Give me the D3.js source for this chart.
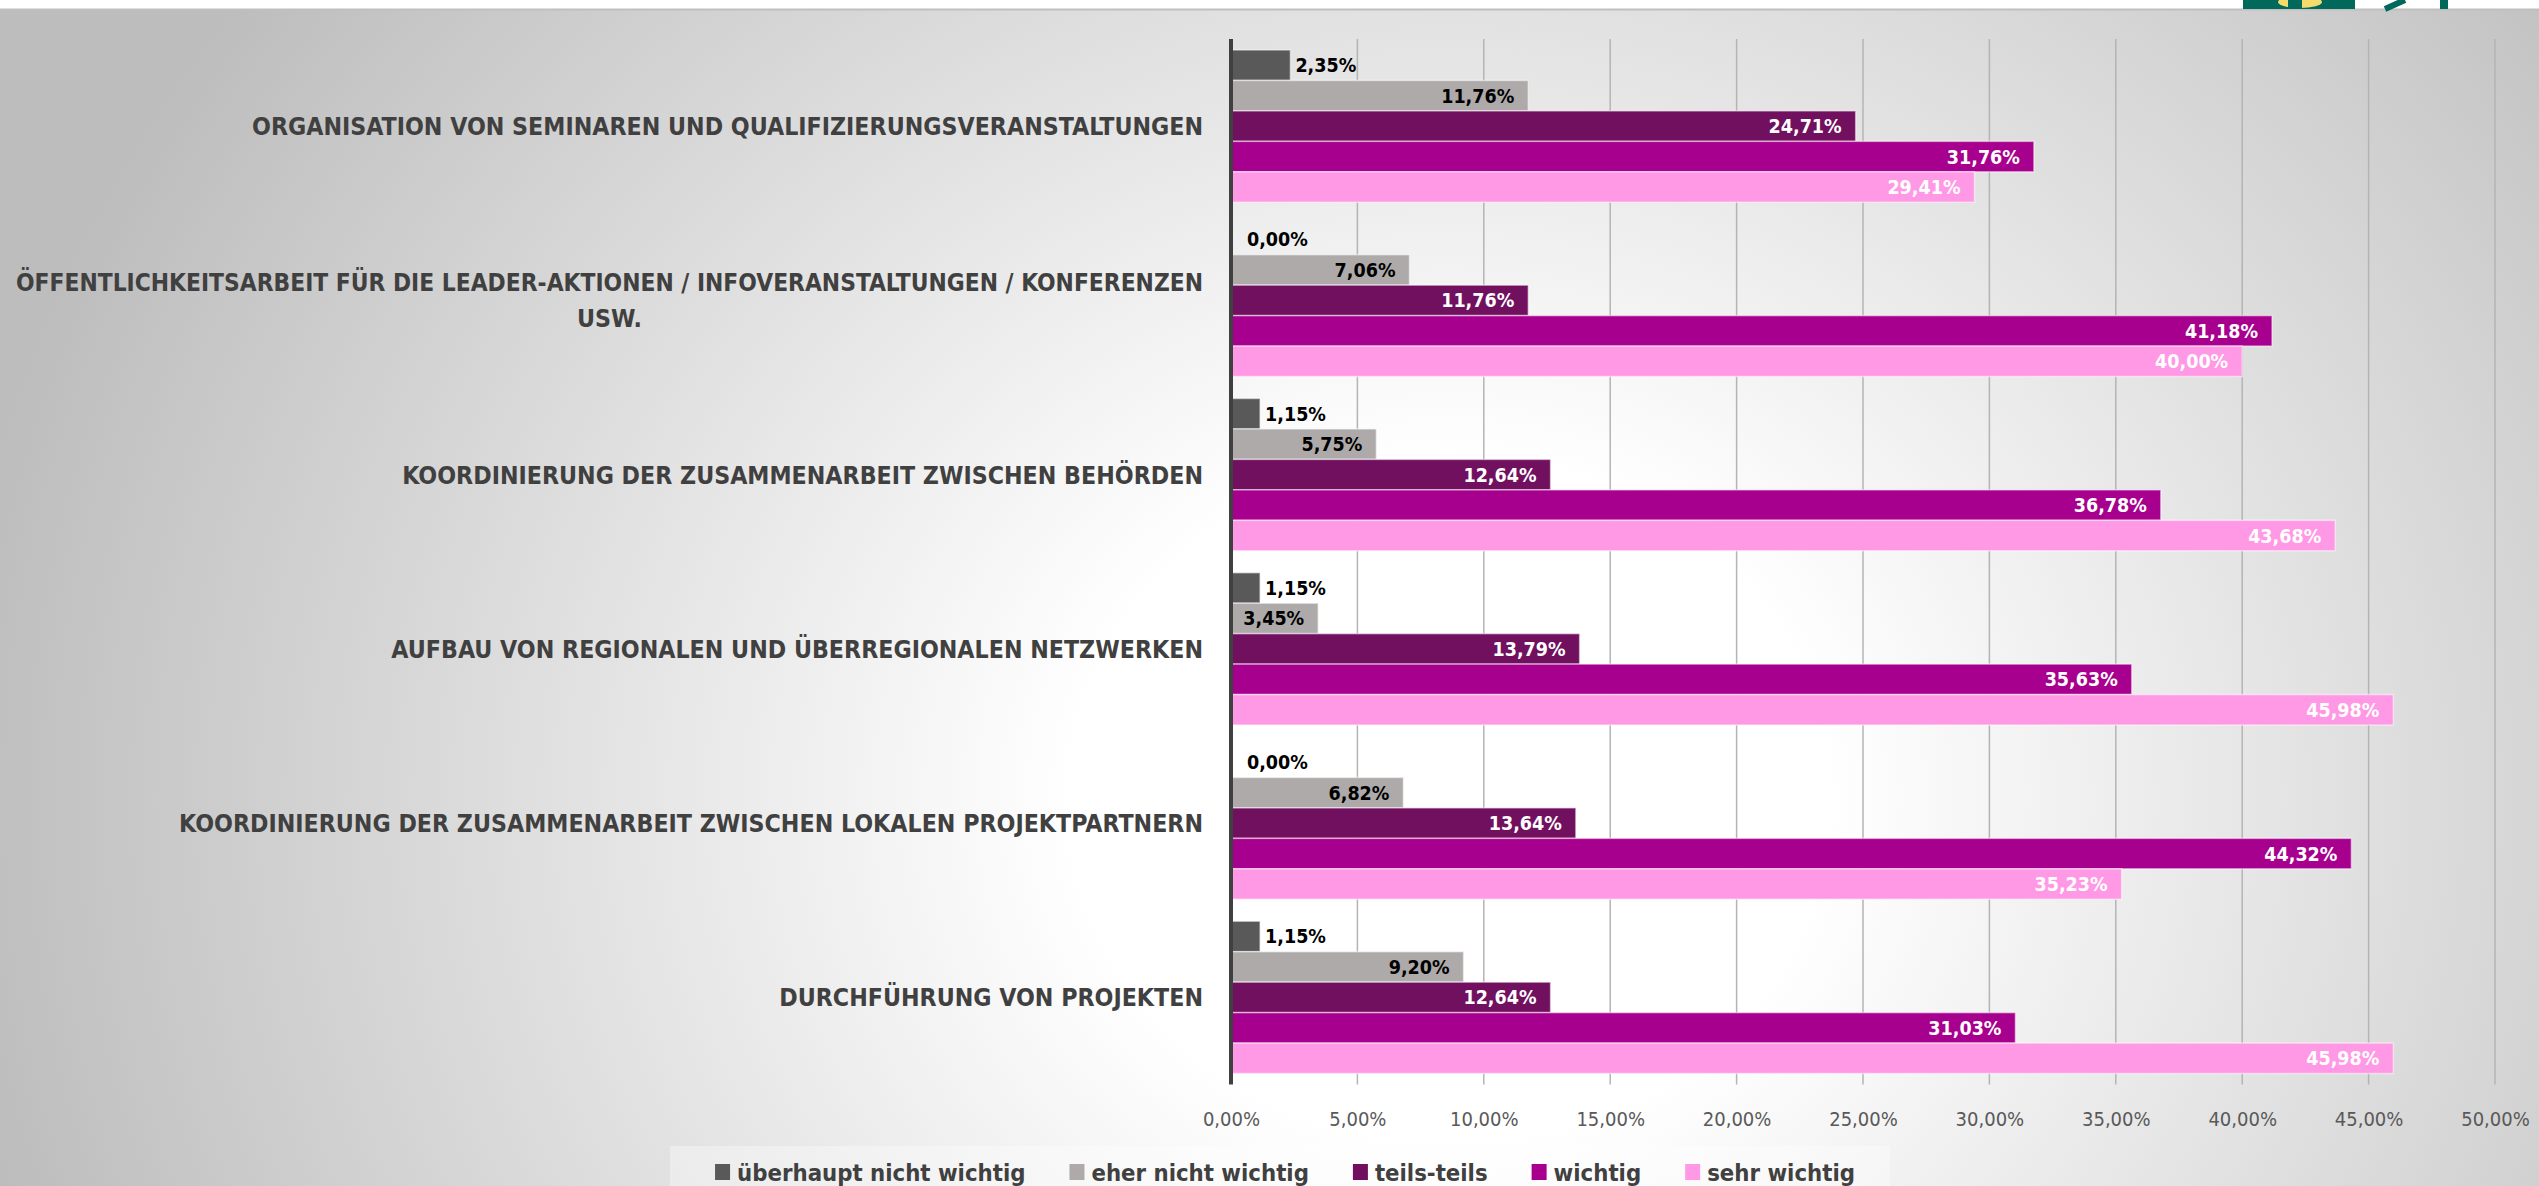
<!DOCTYPE html>
<html>
<head>
<meta charset="utf-8">
<script src="https://cdn.jsdelivr.net/npm/d3@7"></script>
<style>
  body { margin: 0; background: #fff; }
  svg { display: block; }
  text { font-family: "DejaVu Sans Condensed", "DejaVu Sans", sans-serif; font-stretch: condensed; }
</style>
</head>
<body>
<main></main>
<script>
const categories = [
  "ORGANISATION VON SEMINAREN UND QUALIFIZIERUNGSVERANSTALTUNGEN",
  "ÖFFENTLICHKEITSARBEIT FÜR DIE LEADER-AKTIONEN / INFOVERANSTALTUNGEN / KONFERENZEN USW.",
  "KOORDINIERUNG DER ZUSAMMENARBEIT ZWISCHEN BEHÖRDEN",
  "AUFBAU VON REGIONALEN UND ÜBERREGIONALEN NETZWERKEN",
  "KOORDINIERUNG DER ZUSAMMENARBEIT ZWISCHEN LOKALEN PROJEKTPARTNERN",
  "DURCHFÜHRUNG VON PROJEKTEN"
];
const seriesNames = ["überhaupt nicht wichtig", "eher nicht wichtig", "teils-teils", "wichtig", "sehr wichtig"];
const ueberhauptNichtWichtig = [2.35, 0.00, 1.15, 1.15, 0.00, 1.15];
const eherNichtWichtig = [11.76, 7.06, 5.75, 3.45, 6.82, 9.20];
const teilsTeils = [24.71, 11.76, 12.64, 13.79, 13.64, 12.64];
const wichtig = [31.76, 41.18, 36.78, 35.63, 44.32, 31.03];
const sehrWichtig = [29.41, 40.00, 43.68, 45.98, 35.23, 45.98];
const tickValues = [0, 5, 10, 15, 20, 25, 30, 35, 40, 45, 50];

const seriesValues = [ueberhauptNichtWichtig, eherNichtWichtig, teilsTeils, wichtig, sehrWichtig];
const colors = ["#595959", "#aeaaaa", "#70105e", "#a8008e", "#ff99e6"];
const labelColors = ["#000", "#000", "#fff", "#fff", "#fff"];

const width = 2539;
const height = 1186;
const plot = { left: 1231, right: 2495, top: 39, bottom: 1084.5 };

const locale = d3.formatLocale({ decimal: ",", thousands: ".", grouping: [3], currency: ["", "€"] });
const pct = (v) => locale.format(".2f")(v) + "%";

const svg = d3.select("main")
  .append("svg")
  .attr("width", width)
  .attr("height", height);

// background: soft grey radial wash like the slide
const defs = svg.append("defs");
const grad = defs.append("radialGradient")
  .attr("id", "bg")
  .attr("gradientUnits", "userSpaceOnUse")
  .attr("cx", 1450).attr("cy", 800).attr("r", 1500)
  .attr("gradientTransform", "translate(1450,800) scale(1,0.9) translate(-1450,-800)");
grad.append("stop").attr("offset", 0).attr("stop-color", "#ffffff");
grad.append("stop").attr("offset", 0.25).attr("stop-color", "#ffffff");
grad.append("stop").attr("offset", 1).attr("stop-color", "#bdbdbd");

svg.append("rect").attr("width", width).attr("height", height).attr("fill", "url(#bg)");
svg.append("rect").attr("width", width).attr("height", 9).attr("fill", "#fff");
svg.append("line")
  .attr("x1", 0).attr("x2", width).attr("y1", 9.5).attr("y2", 9.5)
  .attr("stroke", "#bfbfbf").attr("stroke-width", 2);

// cut-off logo in the top right corner
const logo = svg.append("g");
logo.append("rect").attr("x", 2243).attr("y", 0).attr("width", 112).attr("height", 9).attr("fill", "#00695c");
logo.append("ellipse").attr("cx", 2300).attr("cy", 2).attr("rx", 22).attr("ry", 6).attr("fill", "#f3dc6b");
logo.append("rect").attr("x", 2288).attr("y", 0).attr("width", 14).attr("height", 9).attr("fill", "#00695c");
logo.append("path").attr("d", "M2385,9 L2405,0").attr("stroke", "#00695c").attr("stroke-width", 6);
logo.append("rect").attr("x", 2440).attr("y", 0).attr("width", 8).attr("height", 9).attr("fill", "#00695c");

const x = d3.scaleLinear().domain([0, 50]).range([plot.left, plot.right]);
const y0 = d3.scaleBand()
  .domain(categories)
  .range([plot.top, plot.bottom])
  .paddingInner(0.126)
  .paddingOuter(0.063);
const y1 = d3.scaleBand().domain(d3.range(seriesNames.length)).range([0, y0.bandwidth()]);

// gridlines
svg.append("g")
  .selectAll("line")
  .data(tickValues.slice(1))
  .enter()
  .append("line")
  .attr("x1", (d) => x(d)).attr("x2", (d) => x(d))
  .attr("y1", plot.top).attr("y2", plot.bottom)
  .attr("stroke", "#b4b4b4")
  .attr("stroke-width", 1.5);

const xAxis = d3.axisBottom(x).tickValues(tickValues).tickSize(0).tickFormat(pct);
svg.append("g")
  .attr("id", "x-axis")
  .attr("transform", "translate(0," + (plot.bottom + 24) + ")")
  .call(xAxis)
  .call((g) => g.select(".domain").remove())
  .selectAll("text")
  .style("font-size", "20px")
  .attr("fill", "#595959");

// bars
const rows = [];
seriesValues.forEach((vals, s) => {
  vals.forEach((v, c) => rows.push({ s, cat: categories[c], v }));
});

svg.append("g")
  .selectAll("rect")
  .data(rows)
  .enter()
  .append("rect")
  .attr("x", x(0))
  .attr("y", (d) => y0(d.cat) + y1(d.s))
  .attr("width", (d) => x(d.v) - x(0))
  .attr("height", y1.bandwidth())
  .attr("fill", (d) => colors[d.s])
  .attr("stroke", "rgba(255,255,255,0.5)")
  .attr("stroke-width", 1.5);

// data labels: inside end when they fit, otherwise just outside
svg.append("g")
  .selectAll("text")
  .data(rows)
  .enter()
  .append("text")
  .attr("y", (d) => y0(d.cat) + y1(d.s) + y1.bandwidth() / 2)
  .attr("dy", "0.36em")
  .style("font-size", "19.5px")
  .style("font-weight", "bold")
  .text((d) => pct(d.v))
  .each(function (d) {
    const t = d3.select(this);
    const w = this.getComputedTextLength();
    const barW = x(d.v) - x(0);
    if (w + 24 < barW) {
      t.attr("x", x(d.v) - 14).attr("text-anchor", "end").attr("fill", labelColors[d.s]);
    } else {
      t.attr("x", Math.max(x(d.v) + 5, x(0) + 16)).attr("text-anchor", "start").attr("fill", "#000");
    }
  });

// vertical axis line
svg.append("line")
  .attr("x1", x(0)).attr("x2", x(0))
  .attr("y1", plot.top).attr("y2", plot.bottom)
  .attr("stroke", "#404040")
  .attr("stroke-width", 4);

// category labels, wrapped and centred per line like Excel
const labelRight = x(0) - 28;
const labelMax = 1187;
const lineGap = 36;
svg.append("g")
  .selectAll("text")
  .data(categories)
  .enter()
  .append("text")
  .style("font-size", "24.7px")
  .style("font-weight", "bold")
  .attr("fill", "#404040")
  .each(function (d) {
    const t = d3.select(this);
    const words = d.split(" ");
    const probe = t.append("tspan");
    const lines = [[]];
    words.forEach((w) => {
      const line = lines[lines.length - 1];
      line.push(w);
      probe.text(line.join(" "));
      if (probe.node().getComputedTextLength() > 1225 && line.length > 1) {
        line.pop();
        lines.push([w]);
      }
    });
    const widths = lines.map((l) => { probe.text(l.join(" ")); return Math.min(probe.node().getComputedTextLength(), labelMax); });
    probe.remove();
    const maxW = d3.max(widths);
    const cy = y0(d) + y0.bandwidth() / 2;
    lines.forEach((l, i) => {
      const span = t.append("tspan")
        .attr("x", labelRight - maxW / 2)
        .attr("y", cy + (i - (lines.length - 1) / 2) * lineGap)
        .attr("dy", "0.36em")
        .attr("text-anchor", "middle")
        .text(l.join(" "));
      if (span.node().getComputedTextLength() > labelMax) {
        span.attr("textLength", labelMax).attr("lengthAdjust", "spacingAndGlyphs");
      }
    });
  });

// legend
svg.append("rect")
  .attr("x", 670).attr("y", 1146).attr("width", 1220).attr("height", 40)
  .attr("fill", "rgba(255,255,255,0.35)");

const legend = svg.append("g").attr("id", "legend");
const items = legend.selectAll("g")
  .data(seriesNames)
  .enter()
  .append("g");
items.append("rect")
  .attr("y", 1164).attr("width", 15).attr("height", 16)
  .attr("fill", (d, i) => colors[i]);
items.append("text")
  .attr("x", 22).attr("y", 1172).attr("dy", "0.36em")
  .style("font-size", "23.7px")
  .style("font-weight", "bold")
  .attr("fill", "#404040")
  .text((d) => d);

let offset = 0;
const offsets = [];
items.each(function () {
  offsets.push(offset);
  offset += 22 + d3.select(this).select("text").node().getComputedTextLength() + 44;
});
const legendStart = 1285 - (offset - 44) / 2;
items.attr("transform", (d, i) => "translate(" + (legendStart + offsets[i]) + ",0)");
</script>
</body>
</html>
